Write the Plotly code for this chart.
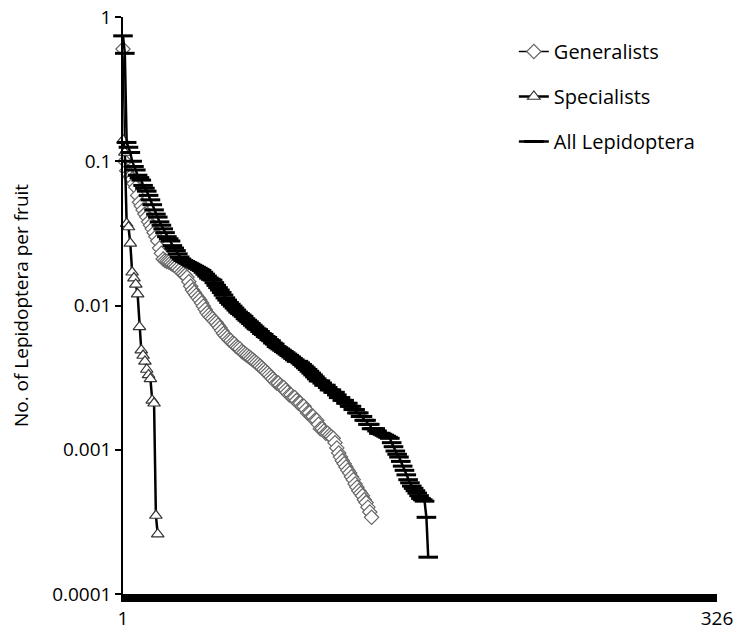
import plotly.graph_objects as go

# Values (rank-ordered abundance per fruit)
generalists = [
    0.6, 0.1, 0.086, 0.081, 0.078, 0.075, 0.07, 0.066, 0.058, 0.052,
    0.049, 0.046, 0.043, 0.041, 0.038, 0.036, 0.034, 0.032, 0.03, 0.028,
    0.025, 0.023, 0.021, 0.0205, 0.0202, 0.02, 0.0197, 0.0193, 0.019, 0.0186,
    0.0181, 0.0176, 0.017, 0.0166, 0.0162, 0.0157, 0.0146, 0.0136, 0.0128, 0.0123,
    0.0118, 0.0113, 0.0109, 0.0104, 0.0099, 0.0094, 0.0089, 0.0086, 0.0083, 0.0081,
    0.0078, 0.0076, 0.0073, 0.007, 0.0067, 0.0064, 0.0062, 0.006, 0.0058, 0.0057,
    0.0055, 0.0054, 0.0052, 0.0051, 0.005, 0.0048, 0.0047, 0.0046, 0.0045, 0.0044,
    0.0043, 0.0042, 0.0041, 0.004, 0.0039, 0.0038, 0.0037, 0.0036, 0.0035, 0.0034,
    0.0033, 0.0032, 0.0031, 0.003, 0.0029, 0.0029, 0.0028, 0.0027, 0.0027, 0.0026,
    0.0025, 0.0024, 0.0024, 0.0023, 0.0023, 0.0022, 0.0021, 0.0021, 0.002, 0.002,
    0.0019, 0.0018, 0.0018, 0.0017, 0.0017, 0.0016, 0.0016, 0.0015, 0.0014, 0.0014,
    0.00135, 0.0013, 0.0013, 0.00126, 0.00123, 0.0012, 0.00112, 0.00103, 0.00095, 0.00089,
    0.00084, 0.0008, 0.00076, 0.00072, 0.00069, 0.00065, 0.00062, 0.00058, 0.00055, 0.00052,
    0.0005, 0.00048, 0.00045, 0.00043, 0.0004, 0.00037, 0.00034,
]

specialists = [
    0.14, 0.115, 0.037, 0.035, 0.027, 0.017, 0.0155, 0.014, 0.012, 0.0071,
    0.0049, 0.0045, 0.0041, 0.0036, 0.0033, 0.0031, 0.0022, 0.0021, 0.00035, 0.00026,
]

all_lepidoptera = [
    0.74, 0.56, 0.135, 0.125, 0.115, 0.1, 0.092, 0.087, 0.08, 0.077,
    0.074, 0.068, 0.065, 0.062, 0.058, 0.054, 0.05, 0.046, 0.043, 0.041,
    0.038, 0.036, 0.034, 0.032, 0.03, 0.029, 0.028, 0.026, 0.025, 0.024,
    0.0228, 0.0217, 0.021, 0.0205, 0.0202, 0.0199, 0.0196, 0.0193, 0.019, 0.0187,
    0.0184, 0.0181, 0.0178, 0.0175, 0.017, 0.0165, 0.016, 0.0155, 0.0152, 0.015,
    0.0144, 0.0138, 0.0133, 0.0128, 0.0123, 0.0118, 0.0113, 0.0109, 0.0105, 0.0102,
    0.0099, 0.0096, 0.0093, 0.009, 0.0088, 0.0086, 0.0084, 0.0081, 0.0079, 0.0077,
    0.0075, 0.0073, 0.0071, 0.0069, 0.0068, 0.0066, 0.0064, 0.0063, 0.0061, 0.006,
    0.0058, 0.0057, 0.0055, 0.0054, 0.0052, 0.0051, 0.005, 0.0049, 0.0048, 0.0047,
    0.0046, 0.0045, 0.0044, 0.0043, 0.0042, 0.0041, 0.0041, 0.004, 0.0039, 0.0038,
    0.0037, 0.0036, 0.0035, 0.0034, 0.0033, 0.0032, 0.0031, 0.003, 0.003, 0.0029,
    0.0028, 0.0028, 0.0027, 0.0026, 0.0026, 0.0025, 0.0025, 0.0024, 0.0023, 0.0023,
    0.0022, 0.0022, 0.0021, 0.0021, 0.002, 0.002, 0.0019, 0.0019, 0.0018, 0.0018,
    0.0017, 0.0017, 0.0016, 0.0016, 0.0015, 0.0015, 0.0014, 0.0014, 0.0014, 0.00135,
    0.0013, 0.0013, 0.00128, 0.00126, 0.00124, 0.00122, 0.0012, 0.00112, 0.00105, 0.00098,
    0.00093, 0.00089, 0.00083, 0.00077, 0.00072, 0.00067, 0.00062, 0.00059, 0.00056, 0.00054,
    0.00052, 0.0005, 0.00048, 0.00046, 0.00045, 0.00044, 0.00034, 0.00018,
]

n_species = 326
x_tick_vals = [1, n_species]
x_tick_text = ["1", "326"]
y_tick_vals = [1, 0.1, 0.01, 0.001, 0.0001]
y_tick_text = ["1", "0.1", "0.01", "0.001", "0.0001"]

FONT = "Open Sans"

fig = go.Figure()

fig.add_trace(go.Scatter(
    x=list(range(1, len(generalists) + 1)), y=generalists,
    name="Generalists", legendgroup="g", mode="lines+markers",
    line=dict(color="black", width=1.5),
    marker=dict(symbol="diamond", size=11, color="white",
                line=dict(color="#666666", width=1.2)),
    cliponaxis=False,
))
fig.add_trace(go.Scatter(
    x=list(range(1, len(specialists) + 1)), y=specialists,
    name="Specialists", legendgroup="s", mode="lines+markers",
    line=dict(color="black", width=2.5),
    marker=dict(symbol="triangle-up", size=11, color="white",
                line=dict(color="#333333", width=1.2)),
    cliponaxis=False,
))
fig.add_trace(go.Scatter(
    x=list(range(1, len(all_lepidoptera) + 1)), y=all_lepidoptera,
    name="All Lepidoptera", legendgroup="a", mode="lines+markers",
    line=dict(color="black", width=2.5),
    marker=dict(symbol="line-ew", size=14, color="black",
                line=dict(color="black", width=3)),
    cliponaxis=False,
))

fig.update_layout(
    width=734, height=632,
    margin=dict(l=123, r=17, t=17, b=38),
    paper_bgcolor="white", plot_bgcolor="white",
    font=dict(family=FONT, size=19, color="black"),
    showlegend=True,
    legend=dict(x=0.658, y=0.974, xanchor="left", yanchor="top",
                tracegroupgap=16, font=dict(size=20, family=FONT),
                bgcolor="rgba(0,0,0,0)"),
    xaxis=dict(range=[1, n_species], tickvals=x_tick_vals, ticktext=x_tick_text,
               showgrid=False, zeroline=False, showline=True, automargin=False,
               linecolor="black", linewidth=8, ticks="",
               tickfont=dict(size=19, family=FONT)),
    yaxis=dict(type="log", range=[-4, 0], tickvals=y_tick_vals, ticktext=y_tick_text,
               showgrid=False, zeroline=False, showline=True, automargin=False,
               linecolor="black", linewidth=1.5, ticks="outside", ticklen=6,
               tickwidth=1.5, tickcolor="black",
               tickfont=dict(size=19, family=FONT),
               title=dict(text="No. of Lepidoptera per fruit", standoff=18,
                          font=dict(size=19, family=FONT))),
)

fig.write_html("out.html")
